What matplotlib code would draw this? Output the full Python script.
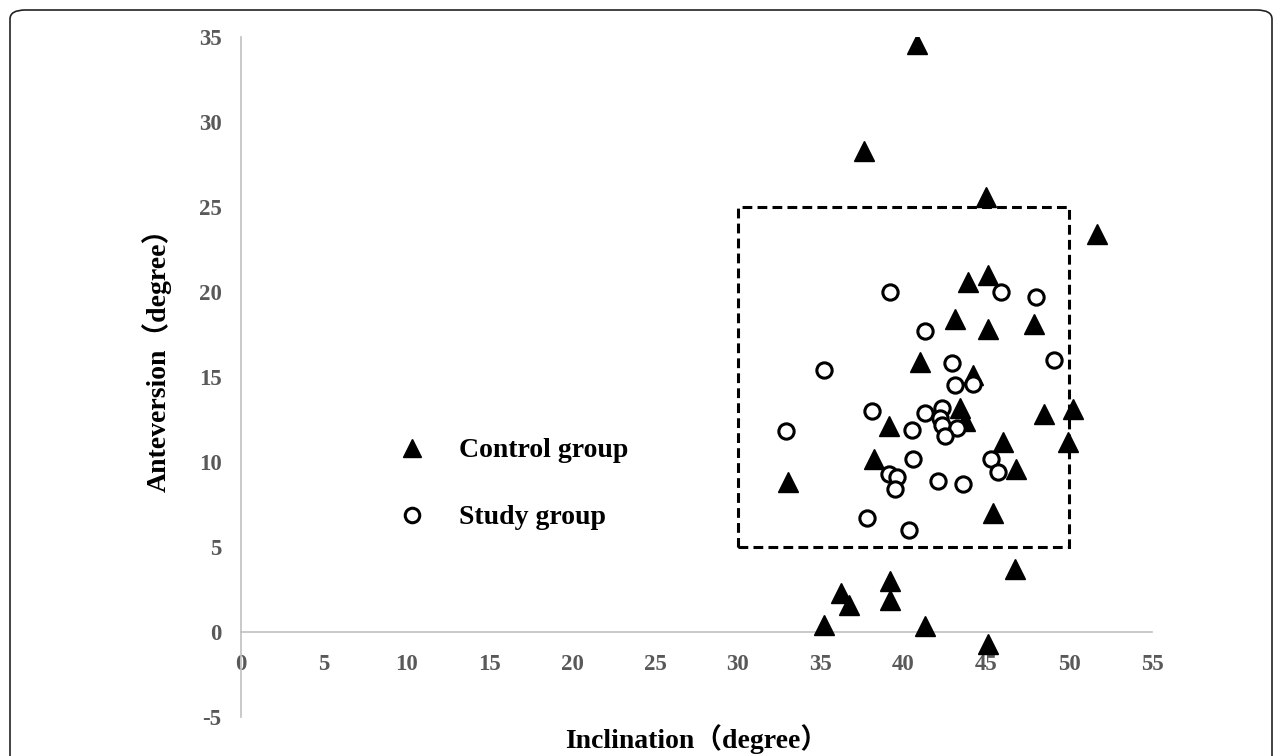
import numpy as np
import matplotlib
matplotlib.use("Agg")
import matplotlib.pyplot as plt
from matplotlib.patches import Rectangle, FancyBboxPatch

plt.rcParams["axes.unicode_minus"] = False

# control group (triangles): inclination, anteversion
ctrl_incl = [40.8, 37.6, 45.0, 51.7, 43.9, 45.1, 43.1, 45.1, 47.9, 41.0,
             44.2, 43.4, 43.7, 39.1, 48.5, 50.2, 49.9, 46.0, 38.2, 46.8,
             33.0, 45.4, 35.2, 36.2, 36.7, 39.2, 39.2, 41.3, 45.1, 46.7]
ctrl_ante = [34.6, 28.3, 25.6, 23.4, 20.6, 21.0, 18.4, 17.8, 18.1, 15.9,
             15.1, 13.2, 12.4, 12.1, 12.8, 13.1, 11.2, 11.2, 10.2, 9.6,
             8.8, 7.0, 0.4, 2.3, 1.6, 3.0, 1.9, 0.35, -0.7, 3.7]

# study group (circles)
study_incl = [39.2, 45.9, 48.0, 41.3, 49.1, 35.2, 42.9, 43.1, 44.2, 38.1,
              41.3, 42.3, 42.2, 42.3, 43.2, 42.5, 40.5, 32.9, 40.6, 45.3,
              45.7, 39.1, 39.6, 39.5, 42.1, 43.6, 37.8, 40.3]
study_ante = [20.0, 20.0, 19.7, 17.7, 16.0, 15.4, 15.8, 14.5, 14.6, 13.0,
              12.9, 13.2, 12.6, 12.2, 12.0, 11.5, 11.9, 11.8, 10.2, 10.2,
              9.4, 9.3, 9.1, 8.4, 8.9, 8.7, 6.7, 6.0]

# safe zone box (inclination 30-50, anteversion 5-25)
zone_incl = [30, 50]
zone_ante = [5, 25]

xticks = list(range(0, 56, 5))
yticks = list(range(-5, 36, 5))

serif = ["Liberation Serif", "Noto Sans CJK JP", "DejaVu Sans"]
gray = "#595959"

fig = plt.figure(figsize=(12.82, 7.56), dpi=100)
ax = fig.add_axes([0.188, 0.0516, 0.7106, 0.8995])

ax.plot(ctrl_incl, ctrl_ante, linestyle="none", marker="^", ms=14,
        mfc="black", mec="black", mew=1, label="Control group", zorder=3)
ax.plot(study_incl, study_ante, linestyle="none", marker="o", ms=11,
        mfc="white", mec="black", mew=2.2, label="Study group", zorder=4)

ax.add_patch(Rectangle((zone_incl[0], zone_ante[0]),
                       zone_incl[1] - zone_incl[0], zone_ante[1] - zone_ante[0],
                       fill=False, ec="black", lw=2.2,
                       linestyle=(0, (3.2, 1.7)), zorder=2))

ax.set_xlim(0, 55)
ax.set_ylim(-5, 35)
ax.set_xticks(xticks)
ax.set_yticks(yticks)

for s in ["top", "right"]:
    ax.spines[s].set_visible(False)
ax.spines["bottom"].set_position(("data", 0))
for s in ["left", "bottom"]:
    ax.spines[s].set_color("#c0c0c0")
    ax.spines[s].set_linewidth(1.2)

ax.tick_params(axis="x", length=0, pad=16, labelcolor=gray)
ax.tick_params(axis="y", length=0, pad=14, labelcolor=gray)
for lab in ax.get_xticklabels() + ax.get_yticklabels():
    lab.set_family(serif)
    lab.set_fontweight("bold")
    lab.set_fontsize(16.5)

ax.set_xlabel("Inclination（degree）", family=serif, fontweight="bold",
              fontsize=20, color="black")
ax.xaxis.set_label_coords(0.5, -0.01)
ax.set_ylabel("Anteversion（degree）", family=serif, fontweight="bold",
              fontsize=20, color="black")
ax.yaxis.set_label_coords(-0.076, 0.535)

leg = ax.legend(loc="center left", bbox_to_anchor=(9.5, 8.7),
                bbox_transform=ax.transData, frameon=False,
                borderpad=0, borderaxespad=0, handlelength=1.0,
                handletextpad=1.2, labelspacing=1.5, markerscale=0.95,
                prop={"family": serif, "weight": "bold", "size": 20})

# rounded outer frame
fig.patches.append(FancyBboxPatch((10 / 1282, -0.05), 1262 / 1282, 0.05 + 746 / 756,
                                  boxstyle="round,pad=0,rounding_size=0.012",
                                  transform=fig.transFigure, fill=False,
                                  ec="#222222", lw=1.2))

fig.savefig("out.png", dpi=100)
